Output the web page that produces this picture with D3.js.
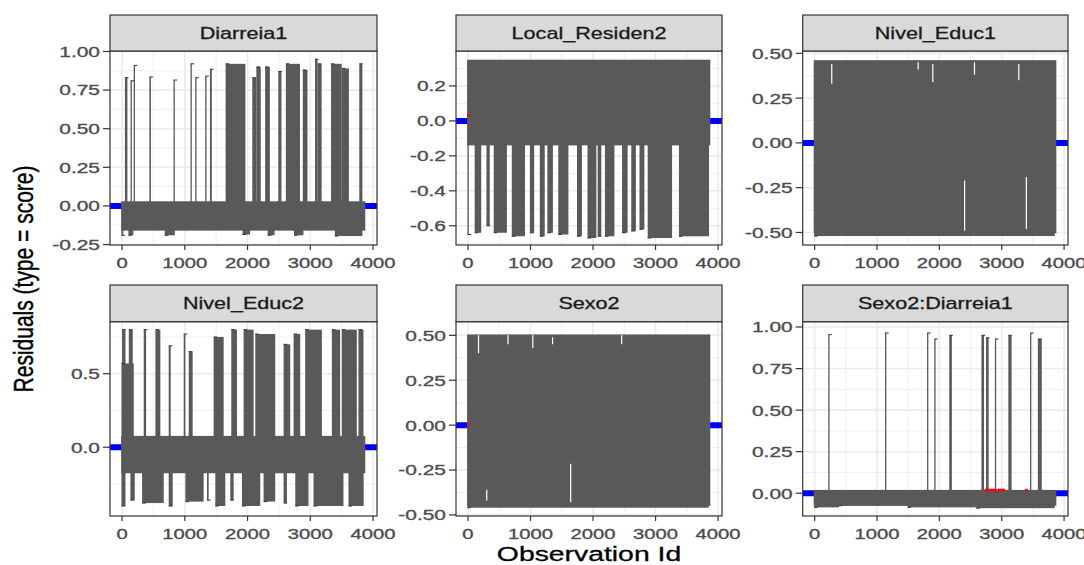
<!DOCTYPE html>
<html>
<head>
<meta charset="utf-8">
<script src="https://cdn.jsdelivr.net/npm/d3@7"></script>
<style>
  body { margin: 0; background: #fff; }
  svg { display: block; }
  text { font-family: "Liberation Sans", Arial, sans-serif; }
</style>
</head>
<body>
<svg width="1084" height="565"></svg>
<script>
// facet names, in reading order
const panelNames = ["Diarreia1", "Local_Residen2", "Nivel_Educ1", "Nivel_Educ2", "Sexo2", "Sexo2:Diarreia1"];
const nObs = 3870;
const xTicks = [0, 1000, 2000, 3000, 4000];
const yDomains = [[-0.253, 1.003], [-0.71, 0.40], [-0.57, 0.513], [-0.468, 0.854], [-0.506, 0.576], [-0.137, 1.032]];
const yTicks = [
  [-0.25, 0, 0.25, 0.5, 0.75, 1],
  [-0.6, -0.4, -0.2, 0, 0.2],
  [-0.5, -0.25, 0, 0.25, 0.5],
  [0, 0.5],
  [-0.5, -0.25, 0, 0.25, 0.5],
  [0, 0.25, 0.5, 0.75, 1]
];
const yFormats = [".2f", ".1f", ".2f", ".1f", ".2f", ".2f"];

// bulk of the residual line: [low, high] over all observations
const baseBands = [[-0.16, 0.03], [-0.14, 0.35], [-0.505, 0.462], [-0.177, 0.077], [-0.45, 0.505], [-0.075, 0.02]];

// runs of observations reaching up to a value: [fromId, toId, top]
const upperRuns = [
  [[55, 95, 0.83], [145, 155, 0.81], [195, 210, 0.91], [445, 470, 0.835], [830, 850, 0.815], [1100, 1115, 0.92],
   [1175, 1185, 0.83], [1335, 1350, 0.84], [1410, 1440, 0.885], [1660, 1975, 0.92], [2085, 2150, 0.83],
   [2150, 2220, 0.9], [2290, 2365, 0.9], [2500, 2550, 0.87], [2620, 2845, 0.92], [2890, 2965, 0.88],
   [3085, 3125, 0.95], [3125, 3190, 0.92], [3340, 3510, 0.92], [3510, 3625, 0.89], [3790, 3840, 0.92]],
  [],
  [],
  [[1, 196, 0.57], [10, 64, 0.8], [117, 180, 0.8], [355, 393, 0.8], [541, 620, 0.8], [753, 785, 0.69],
   [992, 1019, 0.77], [1072, 1135, 0.65], [1469, 1629, 0.75], [1750, 1841, 0.8], [1947, 2106, 0.8],
   [2133, 2451, 0.77], [2584, 2690, 0.7], [2743, 2849, 0.77], [2928, 3194, 0.8], [3353, 3485, 0.8],
   [3512, 3751, 0.8], [3777, 3857, 0.8]],
  [],
  [[228, 236, 0.954], [1138, 1146, 0.964], [1812, 1820, 0.964], [1928, 1936, 0.928], [2168, 2210, 0.95],
   [2684, 2726, 0.95], [2758, 2800, 0.935], [2900, 2910, 0.928], [3116, 3168, 0.95], [3464, 3472, 0.964],
   [3589, 3652, 0.928]]
];

// runs of observations reaching down to a value: [fromId, toId, bottom]
const lowerRuns = [
  [[1, 30, -0.19], [110, 190, -0.19], [690, 850, -0.19], [1930, 2050, -0.185], [2330, 2440, -0.19],
   [2750, 2900, -0.19], [3400, 3840, -0.195]],
  [[1, 12, -0.65], [116, 221, -0.64], [305, 358, -0.6], [421, 632, -0.64], [710, 921, -0.66], [1000, 1068, -0.64],
   [1158, 1237, -0.66], [1279, 1368, -0.64], [1453, 1616, -0.65], [1753, 1832, -0.66], [1921, 2063, -0.67],
   [2084, 2142, -0.66], [2200, 2352, -0.66], [2474, 2563, -0.64], [2621, 2695, -0.63], [2753, 2831, -0.62],
   [2884, 3274, -0.67], [3384, 3865, -0.66]],
  [[1, 3860, -0.52]],
  [[1, 64, -0.4], [143, 212, -0.36], [329, 674, -0.38], [753, 817, -0.4], [1019, 1310, -0.37], [1363, 1390, -0.36],
   [1496, 1655, -0.4], [1735, 1788, -0.36], [1920, 2212, -0.4], [2265, 2451, -0.37], [2584, 2637, -0.38],
   [2770, 2981, -0.4], [3061, 3538, -0.4], [3618, 3860, -0.4]],
  [[1, 3860, -0.46]],
  [[1, 400, -0.085], [400, 1500, -0.075], [1500, 2600, -0.085], [2600, 3860, -0.09]]
];

// thin white gaps inside the bulk: [id, from, to]
const whiteGaps = [
  [],
  [],
  [[274, 0.44, 0.33], [1660, 0.45, 0.41], [1895, 0.44, 0.34], [2563, 0.45, 0.38], [3274, 0.44, 0.35],
   [2405, -0.21, -0.49], [3395, -0.19, -0.48]],
  [],
  [[168, 0.5, 0.4], [640, 0.5, 0.45], [1037, 0.5, 0.43], [1353, 0.49, 0.45], [2458, 0.5, 0.45],
   [300, -0.36, -0.42], [1642, -0.215, -0.43]],
  []
];

// highlighted points: [id, value]
const redPoints = [
  [],
  [[10, 0.03]],
  [],
  [],
  [[10, 0.0]],
  [[2750, 0.02], [2775, 0.02], [2800, 0.02], [2840, 0.02], [2870, 0.02], [2900, 0.02], [2950, 0.02],
   [2980, 0.02], [3010, 0.02], [3035, 0.02], [3395, 0.02]]
];

const svg = d3.select("svg");
const SX = 1.35; // the reference is stretched horizontally
const lineColor = "#595959";
const locale = d3.formatLocale({ decimal: ".", thousands: ",", grouping: [3], currency: ["", ""], minus: "-" });

const colLeft = [110, 456, 802.7], colRight = [377, 722, 1068];
const stripTop = [15, 285], plotTop = [51, 321.7], plotBottom = [245, 516];

panelNames.forEach((name, i) => {
  const col = i % 3, row = Math.floor(i / 3);
  const x0 = colLeft[col], x1 = colRight[col];
  const y0 = plotTop[row], y1 = plotBottom[row];

  const x = d3.scaleLinear().domain([1 - 193, nObs + 193]).range([x0, x1]);
  const y = d3.scaleLinear().domain(yDomains[i]).range([y1, y0]);

  const g = svg.append("g");
  const clipId = "clip" + i;
  g.append("clipPath").attr("id", clipId)
    .append("rect").attr("x", x0).attr("y", y0).attr("width", x1 - x0).attr("height", y1 - y0);

  // grid
  const xMinor = xTicks.slice(0, -1).map(t => t + 500).concat([-500, 4500]).filter(t => t > x.domain()[0] && t < x.domain()[1]);
  const yt = yTicks[i];
  const step = yt.length > 1 ? yt[1] - yt[0] : 0.5;
  const yMinor = yt.map(t => t + step / 2).concat([yt[0] - step / 2])
    .filter(t => t > yDomains[i][0] && t < yDomains[i][1]);
  const grid = g.append("g").attr("stroke", "#EBEBEB");
  grid.selectAll(".xmin").data(xMinor).join("line")
    .attr("x1", d => x(d)).attr("x2", d => x(d)).attr("y1", y0).attr("y2", y1).attr("stroke-width", 0.8);
  grid.selectAll(".ymin").data(yMinor).join("line")
    .attr("y1", d => y(d)).attr("y2", d => y(d)).attr("x1", x0).attr("x2", x1).attr("stroke-width", 0.8);
  grid.selectAll(".xmaj").data(xTicks).join("line")
    .attr("x1", d => x(d)).attr("x2", d => x(d)).attr("y1", y0).attr("y2", y1).attr("stroke-width", 1.6);
  grid.selectAll(".ymaj").data(yt).join("line")
    .attr("y1", d => y(d)).attr("y2", d => y(d)).attr("x1", x0).attr("x2", x1).attr("stroke-width", 1.6);

  const marks = g.append("g").attr("clip-path", `url(#${clipId})`);

  // reference line at zero
  marks.append("line")
    .attr("x1", x0).attr("x2", x1).attr("y1", y(0)).attr("y2", y(0))
    .attr("stroke", "#0000FF").attr("stroke-width", 6);

  const band = baseBands[i];
  marks.append("rect")
    .attr("x", x(1) - 1).attr("width", x(nObs - 10) - x(1) + 2)
    .attr("y", y(band[1])).attr("height", y(band[0]) - y(band[1]))
    .attr("fill", lineColor);

  marks.selectAll(".up").data(upperRuns[i]).join("rect")
    .attr("x", d => x(d[0]) - 0.6)
    .attr("width", d => Math.max(1.3, x(d[1]) - x(d[0])))
    .attr("y", d => y(d[2]))
    .attr("height", d => y(band[1]) - y(d[2]) + 1)
    .attr("fill", lineColor);
  marks.selectAll(".cap").data(upperRuns[i]).join("line")
    .attr("x1", d => x(d[0]) - 0.6).attr("x2", d => x(d[0]) + 3)
    .attr("y1", d => y(d[2])).attr("y2", d => y(d[2]))
    .attr("stroke", "#333").attr("stroke-width", 1);

  marks.selectAll(".down").data(lowerRuns[i]).join("rect")
    .attr("x", d => x(d[0]) - 0.6)
    .attr("width", d => Math.max(1.3, x(d[1]) - x(d[0])))
    .attr("y", y(band[0]) - 1)
    .attr("height", d => y(d[2]) - y(band[0]) + 1)
    .attr("fill", lineColor);
  marks.selectAll(".bcap").data(lowerRuns[i]).join("line")
    .attr("x1", d => x(d[0]) - 0.6).attr("x2", d => x(d[0]) + 3)
    .attr("y1", d => y(d[2])).attr("y2", d => y(d[2]))
    .attr("stroke", "#333").attr("stroke-width", 1);

  marks.selectAll(".gap").data(whiteGaps[i]).join("line")
    .attr("x1", d => x(d[0])).attr("x2", d => x(d[0]))
    .attr("y1", d => y(d[1])).attr("y2", d => y(d[2]))
    .attr("stroke", "#fff").attr("stroke-width", 1.2);

  marks.selectAll(".red").data(redPoints[i]).join("circle")
    .attr("cx", d => x(d[0])).attr("cy", d => y(d[1])).attr("r", 1.5)
    .attr("fill", "#FF0000");

  // panel border
  g.append("rect").attr("x", x0).attr("y", y0).attr("width", x1 - x0).attr("height", y1 - y0)
    .attr("fill", "none").attr("stroke", "#333333").attr("stroke-width", 1.2);

  // strip
  g.append("rect").attr("x", x0).attr("y", stripTop[row]).attr("width", x1 - x0).attr("height", y0 - stripTop[row])
    .attr("fill", "#D9D9D9").attr("stroke", "#333333").attr("stroke-width", 1.2);
  g.append("text")
    .attr("transform", `translate(${(x0 + x1) / 2},${(stripTop[row] + y0) / 2 + 5.6}) scale(${SX},1)`)
    .attr("text-anchor", "middle").attr("font-size", 16).attr("fill", "#1A1A1A")
    .attr("stroke", "#1A1A1A").attr("stroke-width", 0.3)
    .text(name);

  // x axis
  const xa = g.append("g");
  xa.selectAll("line").data(xTicks).join("line")
    .attr("x1", d => x(d)).attr("x2", d => x(d)).attr("y1", y1).attr("y2", y1 + 5)
    .attr("stroke", "#333333").attr("stroke-width", 1.2);
  xa.selectAll("text").data(xTicks).join("text")
    .attr("transform", d => `translate(${x(d)},${y1 + 22.5}) scale(${SX},1)`)
    .attr("text-anchor", "middle").attr("font-size", 15).attr("fill", "#4D4D4D")
    .attr("stroke", "#4D4D4D").attr("stroke-width", 0.35)
    .text(d => d);

  // y axis
  const fmt = locale.format(yFormats[i]);
  const ya = g.append("g");
  ya.selectAll("line").data(yt).join("line")
    .attr("x1", x0 - 7).attr("x2", x0).attr("y1", d => y(d)).attr("y2", d => y(d))
    .attr("stroke", "#333333").attr("stroke-width", 1.2);
  ya.selectAll("text").data(yt).join("text")
    .attr("transform", d => `translate(${x0 - 10},${y(d) + 5.4}) scale(${SX},1)`)
    .attr("text-anchor", "end").attr("font-size", 15.5).attr("fill", "#4D4D4D")
    .attr("stroke", "#4D4D4D").attr("stroke-width", 0.35)
    .text(d => fmt(d));
});

// axis titles
svg.append("text")
  .attr("transform", `translate(589,561) scale(${SX},1)`)
  .attr("text-anchor", "middle").attr("font-size", 21).attr("fill", "#000")
  .attr("stroke", "#000").attr("stroke-width", 0.3)
  .text("Observation Id");
svg.append("text")
  .attr("transform", `translate(33,279) scale(${SX},1) rotate(-90)`)
  .attr("text-anchor", "middle").attr("font-size", 21).attr("fill", "#000")
  .attr("stroke", "#000").attr("stroke-width", 0.3)
  .text("Residuals (type = score)");
</script>
</body>
</html>
